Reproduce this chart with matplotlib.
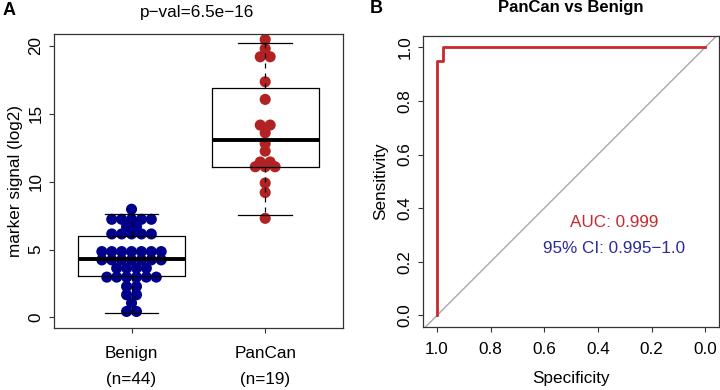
import matplotlib
matplotlib.use("Agg")
import matplotlib.pyplot as plt
import numpy as np

plt.rcParams['font.family'] = ['Liberation Sans', 'DejaVu Sans']

# ---------------- data ----------------
groups = ["Benign", "PanCan"]
group_n = ["(n=44)", "(n=19)"]

benign_values = [7.97,
                 7.23, 7.23, 7.23, 7.23, 7.23,
                 6.69, 6.69,
                 6.15, 6.15, 6.15, 6.15, 6.15,
                 4.85, 4.85, 4.85, 4.85, 4.85, 4.85, 4.85,
                 4.24, 4.24, 4.24, 4.24, 4.24, 4.24, 4.24,
                 3.63, 3.63, 3.63, 3.63,
                 2.97, 2.97, 2.97, 2.97, 2.97, 2.97,
                 2.28, 2.28,
                 1.67, 1.67,
                 1.06,
                 0.44, 0.44]
pancan_values = [20.47, 19.8, 19.2, 19.2, 17.36, 16.06, 14.17, 14.17, 13.6,
                 12.8, 12.25, 11.45, 11.45, 11.1, 11.1, 11.1, 9.9, 9.2, 7.3]

# box statistics (whisker low, Q1, median, Q3, whisker high)
benign_box = [0.32, 3.05, 4.29, 6.0, 7.65]
pancan_box = [7.55, 11.05, 13.07, 16.9, 20.25]

pval_text = "p\u2212val=6.5e\u221216"

roc_specificity = [1.0, 1.0, 0.977, 0.977, 0.0]
roc_sensitivity = [0.0, 0.947, 0.947, 1.0, 1.0]
auc_text = "AUC: 0.999"
ci_text = "95% CI: 0.995\u22121.0"
roc_title = "PanCan vs Benign"

# ---------------- styling ----------------
FS = 12.3
dot_blue = "#00008B"
dot_red = "#B22222"
roc_red = "#C9282D"
ci_blue = "#2A2A9E"

fig = plt.figure(figsize=(7.2, 3.9), dpi=100)

# ---------------- panel A ----------------
ax1 = fig.add_axes([0.075, 0.1582, 0.401, 0.7554])


def row_offsets(values, spacing):
    vals = np.asarray(values, dtype=float)
    offs = np.zeros(len(vals))
    for v in np.unique(vals):
        idx = np.where(vals == v)[0]
        n = len(idx)
        offs[idx] = (np.arange(n) - (n - 1) / 2.0) * spacing
    return offs


spacing = 0.074
for pos, vals, col in [(1, benign_values, dot_blue), (2, pancan_values, dot_red)]:
    xs = pos + row_offsets(vals, spacing)
    ax1.scatter(xs, vals, s=64, color=col, edgecolors='none', zorder=2)

stats = []
for lab, b in zip(groups, [benign_box, pancan_box]):
    stats.append(dict(label=lab, whislo=b[0], q1=b[1], med=b[2], q3=b[3],
                      whishi=b[4], fliers=[]))
ax1.bxp(stats, positions=[1, 2], widths=0.8, capwidths=0.4, showfliers=False,
        boxprops=dict(color='black', linewidth=0.9),
        medianprops=dict(color='black', linewidth=2.8, solid_capstyle='butt'),
        whiskerprops=dict(color='black', linewidth=0.9, linestyle=(0, (4, 4))),
        capprops=dict(color='black', linewidth=0.9),
        zorder=3)

ax1.set_xlim(0.42, 2.58)
ax1.set_ylim(-0.8, 20.9)
ax1.set_yticks([0, 5, 10, 15, 20])
ax1.set_yticklabels(["0", "5", "10", "15", "20"])
ax1.set_xticks([1, 2])
ax1.set_xticklabels([g + "\n" + n for g, n in zip(groups, group_n)],
                    linespacing=1.9)
ax1.set_ylabel("marker signal (log2)", fontsize=FS, labelpad=4)
ax1.tick_params(axis='both', direction='out', length=3.5, width=0.8,
                labelsize=FS, color='#333333')
ax1.tick_params(axis='x', pad=9.5)
ax1.tick_params(axis='y', labelrotation=90, pad=4)
for lbl in ax1.get_yticklabels():
    lbl.set_va('center')
for sp in ax1.spines.values():
    sp.set_linewidth(0.9)
    sp.set_color('#333333')

fig.text(0.274, 0.969, pval_text, ha='center', va='center', fontsize=FS)
fig.text(0.013, 0.972, "A", ha='center', va='center', fontsize=13,
         fontweight='bold')

# ---------------- panel B ----------------
ax2 = fig.add_axes([0.5879, 0.1623, 0.4106, 0.7454])
ax2.axline((1, 0), (0, 1), color='#A8A8A8', linewidth=1.0, zorder=1)
ax2.plot(roc_specificity, roc_sensitivity, color=roc_red, linewidth=2.0,
         zorder=2)
ax2.set_xlim(1.051, -0.051)
ax2.set_ylim(-0.042, 1.042)
ticks = [0.0, 0.2, 0.4, 0.6, 0.8, 1.0]
ax2.set_xticks(ticks)
ax2.set_xticklabels([f"{t:.1f}" for t in ticks])
ax2.set_yticks(ticks)
ax2.set_yticklabels([f"{t:.1f}" for t in ticks])
ax2.set_xlabel("Specificity", fontsize=FS, labelpad=10)
ax2.set_ylabel("Sensitivity", fontsize=FS, labelpad=7)
ax2.tick_params(axis='both', direction='out', length=3.5, width=0.8,
                labelsize=FS, color='#333333')
ax2.tick_params(axis='x', pad=7.5)
ax2.tick_params(axis='y', labelrotation=90, pad=4)
for lbl in ax2.get_yticklabels():
    lbl.set_va('center')
for sp in ax2.spines.values():
    sp.set_linewidth(0.9)
    sp.set_color('#333333')

ax2.text(0.339, 0.347, auc_text, color=roc_red, ha='center', va='center',
         fontsize=FS)
ax2.text(0.339, 0.248, ci_text, color=ci_blue, ha='center', va='center',
         fontsize=FS)

fig.text(0.793, 0.981, roc_title, ha='center', va='center', fontsize=12,
         fontweight='bold')
fig.text(0.522, 0.977, "B", ha='center', va='center', fontsize=13,
         fontweight='bold')

fig.savefig("out.png", dpi=100)
